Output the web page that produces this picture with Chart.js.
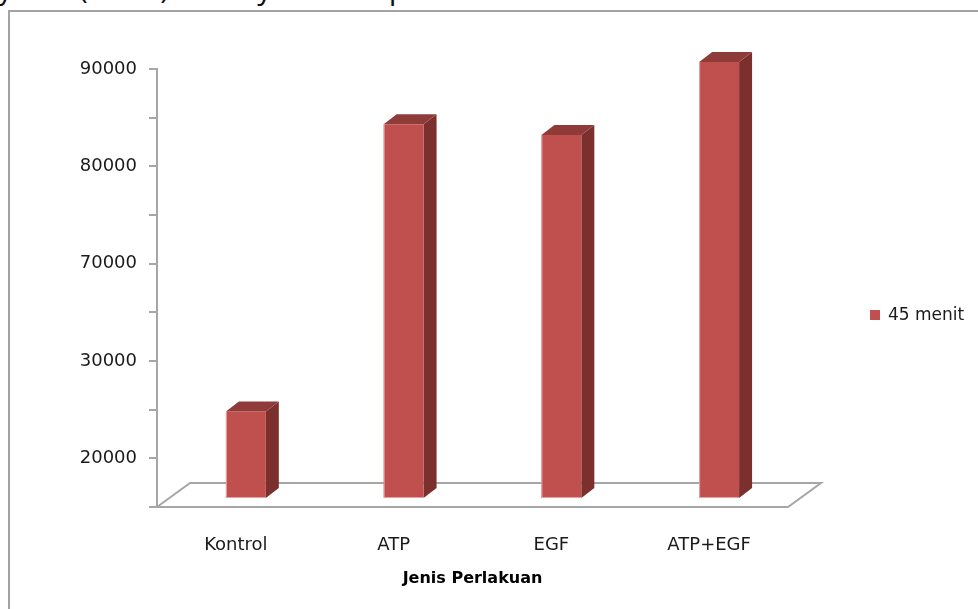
<!DOCTYPE html>
<html>
<head>
<meta charset="utf-8">
<script src="https://cdn.jsdelivr.net/npm/chart.js@4.4.1/dist/chart.umd.min.js"></script>
<style>
    html, body { margin: 0; padding: 0; background: #fff; overflow: hidden; }
    body { width: 978px; height: 609px; position: relative; }
    .doc-line {
        position: absolute; left: -2px; top: -26px;
        font-family: "Noto Sans", sans-serif; font-size: 28px; line-height: 28px;
        color: #111; white-space: nowrap;
    }
    .frame {
        position: absolute; left: 8px; top: 10px; width: 1100px; height: 700px;
        border-left: 2px solid #a3a3a3; border-top: 2px solid #a3a3a3;
    }
    #chart { position: absolute; left: 0; top: 0; }
</style>
</head>
<body>
<div class="doc-line">yaran (Nono) Sebanyak tes dapat</div>
<div class="frame"></div>
<canvas id="chart" width="978" height="609"></canvas>
<script>
// Categories, series and the (uneven) labels of the value axis
const categories = ["Kontrol", "ATP", "EGF", "ATP+EGF"];
const seriesName = "45 menit";
const values45 = [24000, 83500, 82400, 89900];
const tickLabels = [20000, 30000, 70000, 80000, 90000];

const frontColor = "#c0504d";
const sideColor = "#7c302e";
const topColor = "#8f3b39";
const lineGray = "#a6a6a6";

// axis labels sit at even steps, so map a value onto its step position
function stepPos(v) {
    const t = tickLabels;
    let i = 0;
    while (i < t.length - 2 && v > t[i + 1]) i++;
    return i + (v - t[i]) / (t[i + 1] - t[i]);
}

const floorDepth = { dx: 33, dy: 24 };   // floor slab drawn behind the bars
const barShift = { dx: 10, dy: 8 };      // bars stand halfway back on the floor
const barDepth = { dx: 13, dy: 10 };     // thickness of each column

const columns3d = {
    id: "columns3d",
    beforeDatasetsDraw(chart) {
        const { ctx, chartArea } = chart;
        const { left, right, bottom } = chartArea;
        ctx.save();
        ctx.strokeStyle = lineGray;
        ctx.lineWidth = 2;
        ctx.beginPath();
        ctx.moveTo(left, bottom);
        ctx.lineTo(left + floorDepth.dx, bottom - floorDepth.dy);
        ctx.lineTo(right + floorDepth.dx, bottom - floorDepth.dy);
        ctx.lineTo(right, bottom);
        ctx.lineTo(left, bottom);
        ctx.stroke();
        ctx.restore();
    },
    afterDatasetsDraw(chart) {
        const { ctx } = chart;
        const meta = chart.getDatasetMeta(0);
        ctx.save();
        meta.data.forEach(bar => {
            const { x, y, base, width } = bar.getProps(["x", "y", "base", "width"], true);
            const L = x + barShift.dx - width / 2;
            const R = L + width;
            const T = y - barShift.dy;
            const B = base - barShift.dy;
            const dx = barDepth.dx, dy = barDepth.dy;

            // right side
            ctx.fillStyle = sideColor;
            ctx.beginPath();
            ctx.moveTo(R, T);
            ctx.lineTo(R + dx, T - dy);
            ctx.lineTo(R + dx, B - dy);
            ctx.lineTo(R, B);
            ctx.closePath();
            ctx.fill();

            // top
            ctx.fillStyle = topColor;
            ctx.beginPath();
            ctx.moveTo(L, T);
            ctx.lineTo(L + dx, T - dy);
            ctx.lineTo(R + dx, T - dy);
            ctx.lineTo(R, T);
            ctx.closePath();
            ctx.fill();

            // front
            ctx.fillStyle = frontColor;
            ctx.fillRect(L, T, width, B - T);
            ctx.strokeStyle = "rgba(240,170,168,0.9)";
            ctx.lineWidth = 1;
            ctx.beginPath();
            ctx.moveTo(L + 0.5, T);
            ctx.lineTo(L + 0.5, B - 0.5);
            ctx.lineTo(R, B - 0.5);
            ctx.stroke();
        });

        // legend entry
        const ds = chart.data.datasets[0];
        ctx.fillStyle = frontColor;
        ctx.fillRect(870, 310, 10, 10);
        ctx.fillStyle = "#1a1a1a";
        ctx.font = "17px 'DejaVu Sans'";
        ctx.textBaseline = "middle";
        ctx.fillText(ds.label, 888, 316);
        ctx.restore();
    }
};

Chart.defaults.font.family = "'DejaVu Sans', sans-serif";
Chart.defaults.color = "#1a1a1a";

const ctx = document.getElementById("chart").getContext("2d");
const chart = new Chart(ctx, {
    type: "bar",
    data: {
        labels: categories,
        datasets: [{
            label: seriesName,
            data: values45.map(stepPos),
            base: -0.5,
            backgroundColor: "rgba(0,0,0,0)",
            borderWidth: 0,
            barPercentage: 0.253,
            categoryPercentage: 1
        }]
    },
    options: {
        responsive: false,
        animation: false,
        events: [],
        layout: { padding: { top: 69, right: 190, bottom: 0, left: 0 } },
        plugins: {
            legend: { display: false },
            tooltip: { enabled: false }
        },
        scales: {
            x: {
                afterFit(scale) { scale.height = 102; },
                grid: { display: false },
                border: { display: false },
                ticks: { padding: 20, font: { size: 18 } },
                title: {
                    display: true,
                    text: "Jenis Perlakuan",
                    color: "#000",
                    font: { size: 16, weight: "bold" },
                    padding: { top: 0, bottom: 21 }
                }
            },
            y: {
                min: -0.5,
                max: 4,
                afterFit(scale) { scale.width = 157; },
                afterBuildTicks(scale) {
                    const list = [];
                    for (let v = -0.5; v <= 4; v += 0.5) list.push({ value: v });
                    scale.ticks = list;
                },
                grid: {
                    drawOnChartArea: false,
                    drawTicks: true,
                    tickLength: 8,
                    color: lineGray,
                    lineWidth: 2
                },
                border: { display: true, color: lineGray, width: 2 },
                ticks: {
                    padding: 12,
                    font: { size: 18 },
                    autoSkip: false,
                    callback: (value) => Number.isInteger(value) && value >= 0 ? String(tickLabels[value]) : ""
                }
            }
        }
    },
    plugins: [columns3d]
});
</script>
</body>
</html>
